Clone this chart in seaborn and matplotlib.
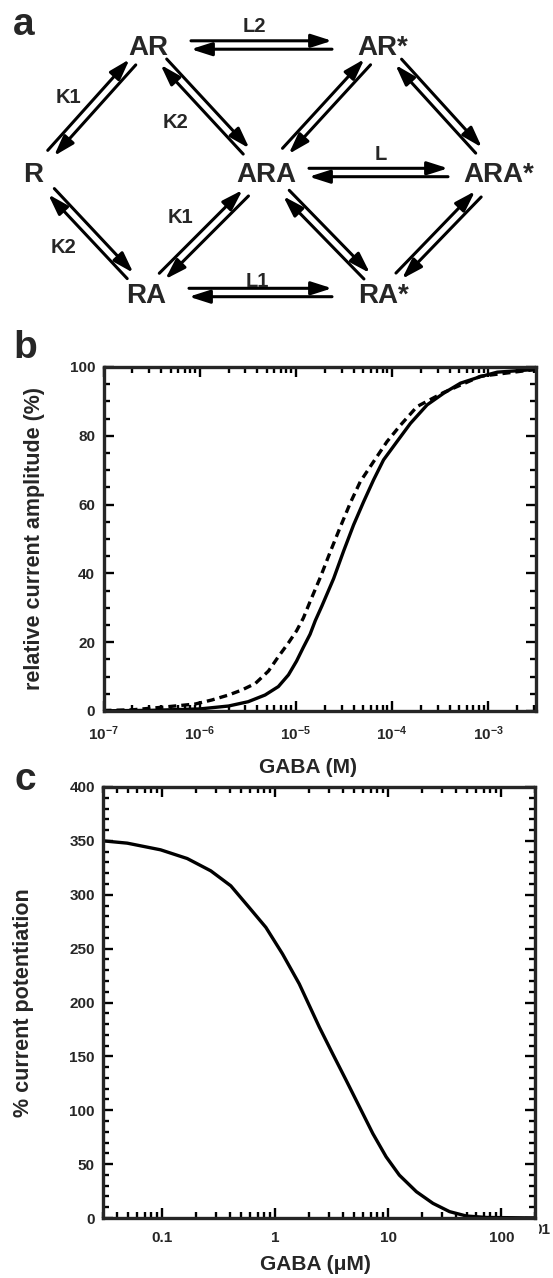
import numpy as np
import matplotlib
matplotlib.use("Agg")
import matplotlib.pyplot as plt
from matplotlib.ticker import LogLocator, MultipleLocator, NullFormatter
import seaborn as sns

# ---- data ----
# panel a: kinetic scheme
node_names = ["R", "AR", "RA", "ARA", "AR*", "RA*", "ARA*"]
edges = [("R", "AR", "K1"), ("AR", "ARA", "K2"), ("R", "RA", "K2"), ("RA", "ARA", "K1"),
         ("AR", "AR*", "L2"), ("ARA", "ARA*", "L"), ("RA", "RA*", "L1"),
         ("ARA", "AR*", ""), ("AR*", "ARA*", ""), ("ARA", "RA*", ""), ("RA*", "ARA*", "")]

# panel b: GABA (M) vs relative current amplitude (%)
gaba_b_solid = [1.0e-7, 3.2e-7, 1.0e-6, 2.0e-6, 3.2e-6, 4.8e-6, 6.6e-6, 8.4e-6, 1.02e-5,
                1.2e-5, 1.41e-5, 1.6e-5, 1.87e-5, 2.48e-5, 3.15e-5, 4.0e-5, 5.08e-5, 6.46e-5,
                8.2e-5, 1.13e-4, 1.56e-4, 2.33e-4, 3.47e-4, 5.18e-4, 8.36e-4, 1.25e-3, 3.16e-3]
amp_solid = [0.05, 0.2, 0.6, 1.45, 2.7, 4.65, 7.1, 10.5, 14.5, 18.5, 22.3, 26.3, 30.5, 38.5,
             46.5, 54.1, 60.8, 67.2, 73.0, 78.3, 83.6, 89.0, 92.4, 95.3, 97.2, 98.5, 99.3]
gaba_b_dashed = [1e-7, 2e-7, 4.0e-7, 9.0e-7, 1.34e-6, 2.0e-6, 2.75e-6, 3.8e-6, 5.2e-6, 6.6e-6,
                 8.4e-6, 1.02e-5, 1.2e-5, 1.42e-5, 1.8e-5, 2.29e-5, 2.91e-5, 3.7e-5, 4.7e-5,
                 6.46e-5, 8.9e-5, 1.23e-4, 1.83e-4, 3.47e-4, 8.36e-4, 3.16e-3]
amp_dashed = [0.15, 0.35, 1.07, 2.03, 3.2, 4.65, 6.1, 8.0, 11.6, 15.8, 19.8, 23.3, 27.0, 32.0,
              38.8, 46.3, 53.5, 60.5, 66.7, 72.5, 78.3, 83.1, 88.5, 92.6, 97.3, 99.3]
b_xticks = [1e-7, 1e-6, 1e-5, 1e-4, 1e-3]
b_xticklabels = ["$10^{-7}$", "$10^{-6}$", "$10^{-5}$", "$10^{-4}$", "$10^{-3}$"]
b_yticks = [0, 20, 40, 60, 80, 100]

# panel c: GABA (uM) vs % current potentiation
gaba_c = [0.03, 0.0488, 0.0964, 0.166, 0.268, 0.403, 0.586, 0.824, 1.156, 1.626, 2.45, 3.21,
          4.23, 5.55, 7.28, 9.55, 12.5, 17.7, 24.8, 34.8, 49.0, 73.8, 200]
potentiation = [350, 347.9, 341.7, 333.6, 322.2, 308.3, 288.2, 269.7, 245.1, 217.3, 177.1,
                152.5, 127.8, 103.1, 78.4, 56.8, 39.8, 24.4, 13.6, 5.9, 1.85, 0.5, 0.05]
c_xticks = [0.1, 1, 10, 100]
c_xticklabels = ["0.1", "1", "10", "100"]
c_yticks = [0, 50, 100, 150, 200, 250, 300, 350, 400]

# ---- style ----
sns.set_style("ticks")
plt.rcParams['font.family'] = ['Liberation Sans', 'DejaVu Sans']
plt.rcParams['font.weight'] = 'bold'
plt.rcParams['axes.labelweight'] = 'bold'
plt.rcParams['mathtext.fontset'] = 'custom'
plt.rcParams['mathtext.rm'] = 'Liberation Sans:bold'
plt.rcParams['mathtext.it'] = 'Liberation Sans:bold'
plt.rcParams['mathtext.bf'] = 'Liberation Sans:bold'

W, H = 553, 1278
fig = plt.figure(figsize=(W / 100, H / 100), dpi=100)


def fx(x):
    return x / W


def fy(y):
    return 1 - y / H


# ---- panel a ----
ax_a = fig.add_axes([0, fy(320), 1, 320 / H])
ax_a.set_xlim(0, W)
ax_a.set_ylim(320, 0)
ax_a.axis('off')

node_xy = {"R": (33.5, 172.5), "AR": (148, 45), "RA": (146, 292.5), "ARA": (266, 172.5),
           "AR*": (383, 45), "RA*": (383, 292.5), "ARA*": (499, 172.5)}
diag_shrink = {"R": 26, "AR": 23, "RA": 23, "ARA": 29, "AR*": 23, "RA*": 23, "ARA*": 30}
label_xy = [(68, 103), (176, 128), (64, 253), (180, 223), (254, 32), (381, 160), (257, 287),
            None, None, None, None]

for name in node_names:
    x, y = node_xy[name]
    ax_a.text(x, y + 10, name, ha='center', va='baseline', fontsize=20, fontweight='bold')

astyle = "-|>,head_length=1.25,head_width=0.4"
for (a, b, lab), lxy in zip(edges, label_xy):
    pa = np.array(node_xy[a])
    pb = np.array(node_xy[b])
    d = pb - pa
    u = d / np.linalg.norm(d)
    n = np.array([u[1], -u[0]])
    if abs(u[1]) < 1e-6:
        sa, sb = 43, 51
    else:
        sa, sb = diag_shrink[a], diag_shrink[b]
    p0 = pa + u * sa
    p1 = pb - u * sb
    off = 4.2
    ax_a.annotate("", xy=p1 + n * off, xytext=p0 + n * off,
                  arrowprops=dict(arrowstyle=astyle, lw=2.2, color='k',
                                  shrinkA=0, shrinkB=0, mutation_scale=10))
    ax_a.annotate("", xy=p0 - n * off, xytext=p1 - n * off,
                  arrowprops=dict(arrowstyle=astyle, lw=2.2, color='k',
                                  shrinkA=0, shrinkB=0, mutation_scale=10))
    if lab:
        ax_a.text(lxy[0], lxy[1], lab, ha='center', va='baseline', fontsize=14.5,
                  fontweight='bold')


def style_axes(ax, minor_step):
    for sp in ax.spines.values():
        sp.set_linewidth(2.4)
        sp.set_visible(True)
    ax.xaxis.set_minor_locator(LogLocator(base=10, subs=np.arange(2, 10)))
    ax.xaxis.set_minor_formatter(NullFormatter())
    ax.yaxis.set_minor_locator(MultipleLocator(minor_step))
    ax.tick_params(which='both', direction='in', top=True, right=True, width=1.7,
                   color='k', labelsize=11)
    ax.tick_params(which='major', length=7.5)
    ax.tick_params(which='minor', length=4)
    ax.tick_params(axis='y', pad=6)
    for t in ax.get_xticklabels() + ax.get_yticklabels():
        t.set_fontweight('bold')


# ---- panel b ----
ax_b = fig.add_axes([fx(103.5), fy(711), (536 - 103.5) / W, (711 - 367) / H])
ax_b.set_xscale('log')
sns.lineplot(x=gaba_b_solid, y=amp_solid, ax=ax_b, color='k', linewidth=2.4)
sns.lineplot(x=gaba_b_dashed, y=amp_dashed, ax=ax_b, color='k', linewidth=2.4)
ax_b.lines[-1].set_dashes([2.4, 1.5])
ax_b.set_xlim(1e-7, 10 ** -2.5)
ax_b.set_ylim(0, 100)
ax_b.set_xticks(b_xticks)
ax_b.set_xticklabels(b_xticklabels)
ax_b.set_yticks(b_yticks)
style_axes(ax_b, 5)
ax_b.tick_params(axis='x', pad=10)
ax_b.set_xlabel("GABA (M)", fontsize=15, fontweight='bold')
ax_b.set_ylabel("relative current amplitude (%)", fontsize=15.5, fontweight='bold')
ax_b.xaxis.set_label_coords(0.473, -0.136)
ax_b.yaxis.set_label_coords(-0.135, 0.5)

# ---- panel c ----
ax_c = fig.add_axes([fx(103.3), fy(1218), (535.4 - 103.3) / W, (1218 - 787) / H])
ax_c.set_xscale('log')
sns.lineplot(x=gaba_c, y=potentiation, ax=ax_c, color='k', linewidth=2.4)
ax_c.set_xlim(0.03, 200)
ax_c.set_ylim(0, 400)
ax_c.set_xticks(c_xticks)
ax_c.set_xticklabels(c_xticklabels)
ax_c.set_yticks(c_yticks)
style_axes(ax_c, 10)
ax_c.tick_params(axis='x', pad=9)
ax_c.set_xlabel("GABA (\u03bcM)", fontsize=15, fontweight='bold')
ax_c.set_ylabel("% current potentiation", fontsize=15.5, fontweight='bold')
ax_c.xaxis.set_label_coords(0.492, -0.086)
ax_c.yaxis.set_label_coords(-0.16, 0.5)

# clipped stray tick-label fragment at the right edge
ax_f = fig.add_axes([fx(539), fy(1240), 14 / W, 18 / H])
ax_f.axis('off')
ax_f.set_xlim(0, 1)
ax_f.set_ylim(0, 1)
ax_f.text(0.8, 0.35, "01", ha='right', va='baseline', fontsize=11, fontweight='bold',
          clip_on=True)

# panel letters
fig.text(fx(13), fy(35), "a", fontsize=28, fontweight='bold', va='baseline')
fig.text(fx(13), fy(358), "b", fontsize=28, fontweight='bold', va='baseline')
fig.text(fx(15), fy(790), "c", fontsize=28, fontweight='bold', va='baseline')

fig.savefig("out.png", dpi=100)
